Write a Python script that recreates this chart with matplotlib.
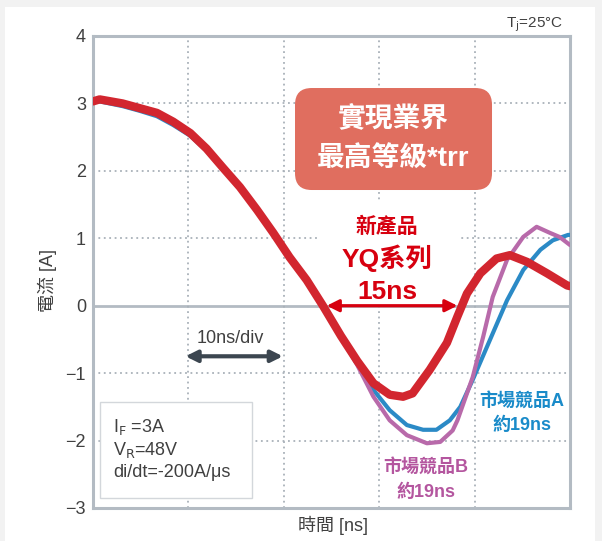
import matplotlib
matplotlib.use("Agg")
import matplotlib.pyplot as plt
from matplotlib.patches import FancyBboxPatch, Rectangle

plt.rcParams['font.family'] = ['Liberation Sans', 'Noto Sans CJK TC']
plt.rcParams['mathtext.default'] = 'regular'

# time [ns] / current [A]
t_yq = [0, 0.7, 3.1, 4.9, 6.7, 8.4, 10.2, 11.9, 13.6, 15.4, 17.2, 18.9, 20.6, 22.4,
        24.1, 26.0, 27.7, 29.4, 31.1, 32.5, 33.5, 35.3, 37.1, 38.2, 39.2, 40.6,
        42.3, 43.7, 45.5, 47.6, 49.7, 50]
i_yq = [3.03, 3.06, 3.0, 2.93, 2.86, 2.73, 2.56, 2.33, 2.05, 1.76, 1.42, 1.08, 0.72, 0.38,
        0.0, -0.45, -0.82, -1.15, -1.32, -1.35, -1.3, -0.95, -0.55, -0.16, 0.18, 0.48,
        0.7, 0.75, 0.65, 0.48, 0.3, 0.29]

t_a = [0, 0.7, 3.1, 4.9, 6.7, 8.4, 10.2, 11.9, 13.6, 15.4, 17.2, 18.9, 20.6, 22.4,
       24.1, 26.0, 27.7, 29.4, 31.1, 32.9, 34.6, 36.0, 37.4, 38.5, 39.8, 41.6,
       43.4, 45.1, 46.9, 48.2, 49.8, 50]
i_a = [3.03, 3.03, 2.96, 2.89, 2.81, 2.68, 2.52, 2.30, 2.03, 1.75, 1.41, 1.07, 0.71, 0.37,
       0.0, -0.46, -0.86, -1.25, -1.55, -1.77, -1.84, -1.84, -1.7, -1.5, -1.1, -0.51,
       0.08, 0.53, 0.83, 0.97, 1.05, 1.05]

t_b = [0, 0.7, 3.1, 4.9, 6.7, 8.4, 10.2, 11.9, 13.6, 15.4, 17.2, 18.9, 20.6, 22.4,
       24.1, 26.0, 27.7, 29.4, 31.1, 32.9, 35.0, 36.4, 37.7, 38.2, 39.8, 40.9,
       41.9, 43.4, 45.1, 46.5, 47.9, 48.9, 50]
i_b = [3.03, 3.05, 2.99, 2.92, 2.85, 2.72, 2.55, 2.32, 2.04, 1.76, 1.42, 1.08, 0.72, 0.38,
       0.0, -0.46, -0.88, -1.35, -1.7, -1.92, -2.04, -2.02, -1.85, -1.7, -1.06, -0.46,
       0.13, 0.68, 1.02, 1.17, 1.08, 1.02, 0.9]

yticks = [-3, -2, -1, 0, 1, 2, 3, 4]
xgrid = [10, 20, 30, 40]

RED = '#d2262f'
BLUE = '#2b8ac6'
PURPLE = '#b86aaa'
GRID = '#a9b1b9'
SPINE = '#b3bbc3'
TXT = '#404040'

fig = plt.figure(figsize=(6.02, 5.41), dpi=100, facecolor='#f2f2f2')
fig.patches.append(Rectangle((5/602, 0), 590/602, 534/541, transform=fig.transFigure,
                             facecolor='white', edgecolor='none', zorder=-10))
ax = fig.add_axes([93/602, 33/541, 477/602, 472/541])
ax.set_xlim(0, 50)
ax.set_ylim(-3, 4)

for y in yticks[1:-1]:
    if y == 0:
        ax.axhline(0, color=SPINE, lw=2, zorder=1)
    else:
        ax.axhline(y, color=GRID, lw=1.3, ls=(0, (1, 2)), zorder=1)
for x in xgrid:
    ax.axvline(x, color=GRID, lw=1.3, ls=(0, (1, 2)), zorder=1)

for s in ax.spines.values():
    s.set_color(SPINE)
    s.set_linewidth(2.2)
ax.set_yticks(yticks)
ax.set_xticks([])
ax.tick_params(axis='y', length=0, pad=5, labelsize=13, labelcolor=TXT)

# white area behind the YQ text
ax.add_patch(Rectangle((23.8, 0.04), 14.5, 1.53, facecolor='white', edgecolor='none', zorder=1.5))

ax.plot(t_a, i_a, color=BLUE, lw=3, zorder=3, solid_capstyle='round', solid_joinstyle='round')
ax.plot(t_b, i_b, color=PURPLE, lw=3, zorder=3, solid_capstyle='round', solid_joinstyle='round')
ax.plot(t_yq, i_yq, color=RED, lw=6, zorder=4, solid_capstyle='round', solid_joinstyle='round')

# salmon box
box = FancyBboxPatch((0.4235, 0.6737), 0.413, 0.2161, transform=ax.transAxes,
                     boxstyle='round,pad=0,rounding_size=0.035', mutation_aspect=477/472,
                     facecolor='#e06e5f', edgecolor='none', zorder=5)
ax.add_patch(box)
ax.text(0.629, 0.822, '實現業界', transform=ax.transAxes, ha='center', va='center',
        fontsize=20, fontweight='bold', color='white', zorder=6)
ax.text(0.629, 0.737, '最高等級*trr', transform=ax.transAxes, ha='center', va='center',
        fontsize=20, fontweight='bold', color='white', zorder=6)

ax.text(0.616, 0.595, '新產品', transform=ax.transAxes, ha='center', va='center',
        fontsize=15, fontweight='bold', color='#d7000f', zorder=6)
ax.text(0.616, 0.530, 'YQ系列', transform=ax.transAxes, ha='center', va='center',
        fontsize=19, fontweight='bold', color='#d7000f', zorder=6)
ax.text(0.618, 0.458, '15ns', transform=ax.transAxes, ha='center', va='center',
        fontsize=19, fontweight='bold', color='#d7000f', zorder=6)
ax.annotate('', xy=(24.5, 0), xytext=(38.2, 0),
            arrowprops=dict(arrowstyle='<|-|>', color='#d7000f', lw=2.3, mutation_scale=18,
                            shrinkA=0, shrinkB=0), zorder=6)

ax.text(0.899, 0.2246, '市場競品A', transform=ax.transAxes, ha='center', va='center',
        fontsize=13, fontweight='bold', color='#1a8bc9', zorder=6)
ax.text(0.899, 0.176, '約19ns', transform=ax.transAxes, ha='center', va='center',
        fontsize=13, fontweight='bold', color='#1a8bc9', zorder=6)
ax.text(0.698, 0.0847, '市場競品B', transform=ax.transAxes, ha='center', va='center',
        fontsize=13, fontweight='bold', color='#b4569f', zorder=6)
ax.text(0.698, 0.034, '約19ns', transform=ax.transAxes, ha='center', va='center',
        fontsize=13, fontweight='bold', color='#b4569f', zorder=6)

# 10ns/div scale arrow
ax.annotate('', xy=(9.7, -0.75), xytext=(19.9, -0.75),
            arrowprops=dict(arrowstyle='<|-|>', color='#3c4650', lw=3, mutation_scale=17,
                            shrinkA=0, shrinkB=0), zorder=6)
ax.text(0.287, 0.360, '10ns/div', transform=ax.transAxes, ha='center', va='center',
        fontsize=13, color=TXT, zorder=6)

# condition box
ax.add_patch(Rectangle((0.0147, 0.0212), 0.318, 0.2034, transform=ax.transAxes,
                       facecolor='white', edgecolor='#d3d7db', lw=1, zorder=5))
cond = [r'I$_\mathrm{F}$ =3A', r'V$_\mathrm{R}$=48V', 'di/dt=-200A/μs']
for k, s in enumerate(cond):
    ax.text(0.042, 0.1716 - k*0.0487, s, transform=ax.transAxes, ha='left', va='center',
            fontsize=13, color=TXT, zorder=6)

fig.text(563/602, 1 - 25/541, r'T$_\mathrm{j}$=25°C', ha='right', va='center',
         fontsize=11, color=TXT)
fig.text(47/602, 1 - 280/541, '電流 [A]', rotation=90, ha='center', va='center',
         fontsize=13, color=TXT)
fig.text(333/602, 1 - 525/541, '時間 [ns]', ha='center', va='center',
         fontsize=13, color=TXT)

fig.savefig('out.png', dpi=100, facecolor=fig.get_facecolor())
